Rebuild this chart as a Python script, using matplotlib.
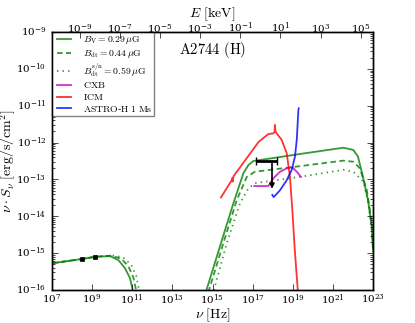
import numpy as np
import matplotlib
matplotlib.use("Agg")
import matplotlib.pyplot as plt

plt.style.use('classic')
plt.rcParams['mathtext.fontset'] = 'cm'
plt.rcParams['font.family'] = 'serif'
plt.rcParams['font.serif'] = ['DejaVu Serif']
plt.rcParams['figure.facecolor'] = 'white'
plt.rcParams['savefig.facecolor'] = 'white'

# ---- data (log10 nu [Hz], log10 nuS_nu [erg/s/cm^2]) ----
radio_solid_lognu = [7.0, 8.48, 9.14, 9.89, 10.31, 10.64, 10.89, 11.02, 11.06]
radio_solid_logS = [-15.275, -15.16, -15.10, -15.08, -15.19, -15.41, -15.68, -16.0, -16.3]
radio_dash_lognu = [7.0, 8.48, 9.14, 9.95, 10.45, 10.80, 11.05, 11.19, 11.23]
radio_dash_logS = [-15.275, -15.16, -15.10, -15.07, -15.15, -15.35, -15.65, -16.0, -16.3]
radio_dot_lognu = [7.0, 8.48, 9.14, 10.0, 10.55, 10.95, 11.20, 11.34, 11.38]
radio_dot_logS = [-15.275, -15.16, -15.10, -15.06, -15.12, -15.32, -15.62, -16.0, -16.3]

data_lognu = [8.48, 9.14]
data_logS = [-15.16, -15.10]

ic_solid_lognu = [14.53, 15.37, 16.04, 16.54, 16.79, 17.04, 19.36, 21.52, 22.02, 22.25, 22.50, 22.75, 22.94, 23.0]
ic_solid_logS = [-16.3, -14.82, -13.65, -12.83, -12.61, -12.50, -12.31, -12.14, -12.20, -12.38, -12.93, -13.56, -14.28, -14.9]
ic_dash_lognu = [14.66, 15.54, 16.21, 16.71, 17.12, 19.36, 21.52, 22.02, 22.35, 22.69, 22.94, 23.0]
ic_dash_logS = [-16.3, -14.73, -13.56, -12.93, -12.79, -12.64, -12.49, -12.52, -12.70, -13.29, -14.18, -14.95]
ic_dot_lognu = [14.92, 15.71, 16.37, 16.79, 17.12, 19.36, 21.52, 22.02, 22.52, 22.77, 22.99, 23.0]
ic_dot_logS = [-16.3, -14.73, -13.65, -13.24, -13.10, -12.93, -12.74, -12.79, -13.06, -13.65, -14.64, -15.05]

icm_lognu = [15.42, 15.96, 15.99, 16.01, 16.04, 17.30, 17.78, 18.03, 18.09, 18.11, 18.14, 18.20, 18.45, 18.70, 18.86, 18.98, 19.10, 19.25, 19.28]
icm_logS = [-13.49, -13.02, -12.96, -13.06, -12.92, -11.98, -11.77, -11.75, -11.72, -11.52, -11.70, -11.75, -11.93, -12.29, -12.93, -13.83, -14.9, -16.0, -16.3]

cxb_lognu = [17.08, 17.78, 18.03, 18.37, 18.70, 18.98, 19.20, 19.41]
cxb_logS = [-13.18, -13.18, -12.97, -12.79, -12.70, -12.67, -12.79, -12.93]

astroh_lognu = [17.98, 18.05, 18.37, 18.70, 18.95, 19.11, 19.20, 19.28, 19.30]
astroh_logS = [-13.42, -13.48, -13.29, -13.02, -12.74, -12.38, -11.93, -11.12, -11.07]

# upper limit (linear centre, half width, value, arrow end)
ul_nu = 9.24e17
ul_nuerr = 7.76e17
ul_S = 10**-12.49
ul_S_end = 10**-13.33

labels = [r'$B_{\rm V}=0.29\,\mu{\rm G}$', r'$B_{\rm dt}=0.44\,\mu{\rm G}$',
          r'$B_{\rm dt}^{\rm s/n}=0.59\,\mu{\rm G}$', r'$\rm CXB$', r'$\rm ICM$',
          r'$\rm ASTRO$-$\rm H\ 1\;Ms$']

def p(a):
    return 10**np.array(a)

fig = plt.figure(figsize=(4.15, 3.23), dpi=100)
ax = fig.add_axes([0.1253, 0.1022, 0.7735, 0.7987])

g = 'g'
lw = 1.3
dash = (4, 2.5)
l1, = ax.plot(p(radio_solid_lognu), p(radio_solid_logS), '-', color=g, alpha=0.8, lw=lw)
ax.plot(p(ic_solid_lognu), p(ic_solid_logS), '-', color=g, alpha=0.8, lw=lw)
l2, = ax.plot(p(radio_dash_lognu), p(radio_dash_logS), '--', dashes=dash, color=g, alpha=0.8, lw=lw)
ax.plot(p(ic_dash_lognu), p(ic_dash_logS), '--', dashes=dash, color=g, alpha=0.8, lw=lw)
l3, = ax.plot(p(radio_dot_lognu), p(radio_dot_logS), ':', color=g, alpha=0.8, lw=lw)
ax.plot(p(ic_dot_lognu), p(ic_dot_logS), ':', color=g, alpha=0.8, lw=lw)
l4, = ax.plot(p(cxb_lognu), p(cxb_logS), '-', color='m', alpha=0.8, lw=lw)
l5, = ax.plot(p(icm_lognu), p(icm_logS), '-', color='r', alpha=0.8, lw=lw)
l6, = ax.plot(p(astroh_lognu), p(astroh_logS), '-', color='b', alpha=0.8, lw=lw)

ax.plot(p(data_lognu), p(data_logS), 'ks', ms=3.5, mec='k')

ax.errorbar([ul_nu], [ul_S], xerr=[ul_nuerr], fmt='none', ecolor='k', elinewidth=2, capsize=3, capthick=1)
ax.annotate('', xy=(ul_nu, ul_S_end), xytext=(ul_nu, ul_S),
            arrowprops=dict(arrowstyle='-|>', color='k', lw=1.2, mutation_scale=7))

ax.set_xscale('log')
ax.set_yscale('log')
ax.set_xlim(1e7, 1e23)
ax.set_ylim(1e-16, 1e-9)
ax.tick_params(labelsize=7.5)
ax.tick_params(axis='x', pad=2)
ax.set_xlabel(r'$\nu\ [\mathrm{Hz}]$', fontsize=10)
ax.xaxis.set_label_coords(0.5, -0.063)
ax.set_ylabel(r'$\nu\cdot S_\nu\ [\mathrm{erg/s/cm^2}]$', fontsize=10)
ax.yaxis.set_label_coords(-0.106, 0.5)

ax.text(0.5, 0.93, r'$\mathrm{A2744\ (H)}$', transform=ax.transAxes, fontsize=10.5,
        ha='center', va='center')

leg = ax.legend([l1, l2, l3, l4, l5, l6], labels, loc='upper left', fontsize=7,
                handlelength=2.0, borderaxespad=0.05, labelspacing=0.18, borderpad=0.2,
                handletextpad=0.9)
leg.get_frame().set_edgecolor('0.5')

h_keV = 4.135667e-18
ax2 = ax.twiny()
ax2.set_xscale('log')
ax2.set_xlim(1e7 * h_keV, 1e23 * h_keV)
ax2.tick_params(labelsize=7.5, pad=-2)
ax2.set_xlabel(r'$E\ [\mathrm{keV}]$', fontsize=10)
ax2.xaxis.set_label_coords(0.5, 1.058)

fig.savefig('out.png', dpi=100)
